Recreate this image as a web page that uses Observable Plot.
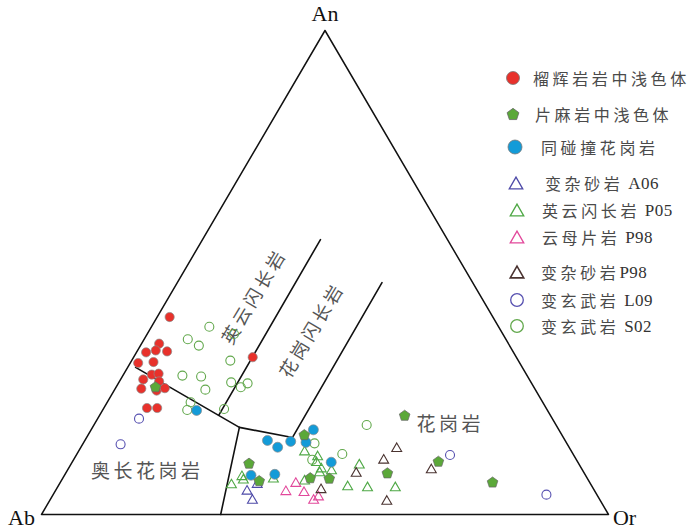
<!DOCTYPE html>
<html><head><meta charset="utf-8">
<script src="https://cdn.jsdelivr.net/npm/d3@7"></script>
<script src="https://cdn.jsdelivr.net/npm/@observablehq/plot@0.6"></script>
<style>
body{margin:0;background:#fff;}
#wrap{position:relative;width:700px;height:532px;overflow:hidden;}
#wrap svg{position:absolute;left:0;top:0;}
</style></head><body><div id="wrap"></div>
<script>
// ternary data as [An %, Or %]  (Ab = 100 - An - Or)
const garnetLeuco = [[40.8,2.2],[35.3,3.1],[33.5,1.7],[33.9,3.2],[33.7,5.3],[31.3,1.4],[31.5,4.0],[28.9,5.0],[29.1,6.1],[27.9,4.0],[27.5,7.0],[26.0,4.6],[25.6,7.5],[26.1,8.7],[22.0,7.6],[22.0,9.4],[32.5,21.0]];
const gneissLeuco = [[26.4,6.9],[16.5,38.1],[10.6,31.3],[7.0,34.9],[7.6,43.6],[7.5,47.0],[20.5,53.8],[8.6,56.7],[11.0,64.5],[6.7,76.2]];
const synCollGranite = [[21.5,16.6],[17.5,39.2],[15.3,32.2],[13.9,34.7],[15.1,36.4],[14.9,39.2],[10.8,45.7],[8.1,32.9],[8.3,37.0]];
const greywackeA06 = [[5.1,33.7],[3.2,35.6],[6.5,34.8]];
const tonaliteP05 = [[6.4,30.3],[8.1,31.3],[7.4,31.9],[7.6,37.1],[13.2,39.8],[12.2,42.6],[11.0,43.0],[9.7,44.5],[8.9,44.6],[9.3,46.5],[7.2,42.8],[10.5,50.8],[6.0,51.0],[5.8,54.6],[5.8,59.5]];
const micaSchistP98 = [[5.0,40.6],[6.7,41.5],[4.8,43.9],[3.2,46.4],[3.9,46.9]];
const greywackeP98 = [[5.4,46.6],[8.8,51.1],[11.5,54.6],[13.9,55.7],[3.0,59.4],[9.5,64.0]];
const basaltL09 = [[19.8,7.3],[14.5,6.7],[12.3,65.9],[4.1,87.0]];
const basaltS02 = [[38.8,10.2],[37.3,15.3],[36.2,7.7],[34.9,10.3],[31.8,17.4],[28.7,10.5],[28.5,13.9],[25.8,16.0],[27.3,19.8],[26.3,22.0],[27.1,22.8],[23.2,14.7],[21.6,14.9],[21.8,21.3],[14.7,40.8],[12.5,46.8],[11.3,42.1],[18.5,48.1]];

// field boundaries [An %, Or %]
const triangleFrame = [[0,0],[0,100],[100,0],[0,0]];
const boundaryMain = [[30.4,1.4],[18.0,25.9],[15.9,36.3],[47.9,36.1]];
const boundaryLower = [[18.0,25.9],[0,31.6]];
const boundaryTonalite = [[20.5,21.0],[56.8,20.8]];

const legendLabels = ["榴辉岩岩中浅色体","片麻岩中浅色体","同碰撞花岗岩","变杂砂岩 A06","英云闪长岩 P05","云母片岩 P98","变杂砂岩P98","变玄武岩 L09","变玄武岩 S02"];
const fieldLabels = ["英云闪长岩","花岗闪长岩","花岗岩","奥长花岗岩"];
const vertexLabels = ["An","Ab","Or"];

const tx = d => d[1] + d[0] / 2;
const ty = d => d[0];

const triSym = {draw(ctx, size){const r=Math.sqrt(size/Math.PI);const w=r*1.3,h=r*1.13;ctx.moveTo(0,-h);ctx.lineTo(w,h);ctx.lineTo(-w,h);ctx.closePath();}};
const pentSym = {draw(ctx, size){const r=Math.sqrt(size/Math.PI);for(let k=0;k<5;k++){const a=-Math.PI/2+k*2*Math.PI/5;const x=r*Math.cos(a),y=r*Math.sin(a)+0.09*r;if(k)ctx.lineTo(x,y);else ctx.moveTo(x,y);}ctx.closePath();}};

const C = {red:"#e8312b", pent:"#5ba839", blue:"#139bd8", a06:"#4e4aa8", p05:"#4ea845", pink:"#e2489b", brown:"#4a3330", l09:"#5650b0", s02:"#62a84c"};
const cjk = "Noto Sans CJK SC";
const serif = "Liberation Serif";

const plot = Plot.plot({
  width: 700, height: 532, margin: 0,
  x: {domain: [0, 100], range: [41, 608], axis: null},
  y: {domain: [0, 100], range: [514, 30], axis: null},
  marks: [
    Plot.line(triangleFrame, {x: tx, y: ty, stroke: "#111", strokeWidth: 1.5}),
    Plot.line(boundaryMain, {x: tx, y: ty, stroke: "#111", strokeWidth: 1.6}),
    Plot.line(boundaryLower, {x: tx, y: ty, stroke: "#111", strokeWidth: 1.6}),
    Plot.line(boundaryTonalite, {x: tx, y: ty, stroke: "#111", strokeWidth: 1.6}),
    Plot.text([[100,0]], {x: tx, y: ty, text: () => vertexLabels[0], dy: -17, fontFamily: serif, fontSize: 22, fill: "#111"}),
    Plot.text([[0,0]], {x: tx, y: ty, text: () => vertexLabels[1], dx: -20, dy: 3, fontFamily: serif, fontSize: 22, fill: "#111"}),
    Plot.text([[0,100]], {x: tx, y: ty, text: () => vertexLabels[2], dx: 16, dy: 3, fontFamily: serif, fontSize: 22, fill: "#111"}),
    Plot.text([[45.0,15.1]], {x: tx, y: ty, text: () => fieldLabels[0], rotate: -59, fontFamily: cjk, fontSize: 18, fill: "#555"}),
    Plot.text([[38.0,28.8]], {x: tx, y: ty, text: () => fieldLabels[1], rotate: -59, fontFamily: cjk, fontSize: 18, fill: "#555"}),
    Plot.text([[18.6,62.8]], {x: tx, y: ty, text: () => fieldLabels[2], fontFamily: cjk, fontSize: 19, fill: "#555"}),
    Plot.text([[8.9,14.2]], {x: tx, y: ty, text: () => fieldLabels[3], fontFamily: cjk, fontSize: 19, fill: "#555"}),
    Plot.dot(basaltS02, {x: tx, y: ty, r: 4.5, stroke: C.s02, strokeWidth: 1.1, fill: "none"}),
    Plot.dot(basaltL09, {x: tx, y: ty, r: 4.5, stroke: C.l09, strokeWidth: 1.1, fill: "none"}),
    Plot.dot(tonaliteP05, {x: tx, y: ty, r: 3.8, symbol: triSym, stroke: C.p05, strokeWidth: 1.1, fill: "none"}),
    Plot.dot(micaSchistP98, {x: tx, y: ty, r: 3.8, symbol: triSym, stroke: C.pink, strokeWidth: 1.1, fill: "none"}),
    Plot.dot(greywackeP98, {x: tx, y: ty, r: 3.8, symbol: triSym, stroke: C.brown, strokeWidth: 1.1, fill: "none"}),
    Plot.dot(greywackeA06, {x: tx, y: ty, r: 3.8, symbol: triSym, stroke: C.a06, strokeWidth: 1.1, fill: "none"}),
    Plot.dot(garnetLeuco, {x: tx, y: ty, r: 4.6, fill: C.red, stroke: "#8a8a8a", strokeWidth: 0.7}),
    Plot.dot(synCollGranite, {x: tx, y: ty, r: 5, fill: C.blue, stroke: "#8a8a8a", strokeWidth: 0.7}),
    Plot.dot(gneissLeuco, {x: tx, y: ty, r: 5.6, symbol: pentSym, fill: C.pent, stroke: "#666", strokeWidth: 0.7})
  ]
});
document.getElementById("wrap").appendChild(plot);
d3.select(plot).selectAll("text").filter(function(){return /[\u4e00-\u9fff]/.test(this.textContent);}).style("letter-spacing","3.5px");

// legend overlay
const legendStyle = [
  {sym: d3.symbolCircle, r: 6.5, fill: C.red, stroke: "#777", sw: 0.8},
  {sym: pentSym, r: 6.2, fill: C.pent, stroke: "#666", sw: 0.8},
  {sym: d3.symbolCircle, r: 7, fill: C.blue, stroke: "#777", sw: 0.8},
  {sym: triSym, r: 5.2, fill: "none", stroke: C.a06, sw: 1.3},
  {sym: triSym, r: 5.2, fill: "none", stroke: C.p05, sw: 1.3},
  {sym: triSym, r: 5.2, fill: "none", stroke: C.pink, sw: 1.3},
  {sym: triSym, r: 5.2, fill: "none", stroke: C.brown, sw: 1.6},
  {sym: d3.symbolCircle, r: 6.3, fill: "none", stroke: C.l09, sw: 1.3},
  {sym: d3.symbolCircle, r: 6.3, fill: "none", stroke: C.s02, sw: 1.3}
];
const legRowY = [78, 114, 147, 183, 210, 237, 272, 300, 326];
const legMarkX = [513, 513, 515, 516, 517, 517, 517, 517, 517];
const legTextX = [533, 535, 541, 545, 542, 542, 541, 541, 541];
const leg = d3.select("#wrap").append("svg").attr("width", 700).attr("height", 532);
legendLabels.forEach((lab, i) => {
  const s = legendStyle[i];
  leg.append("path")
    .attr("transform", `translate(${legMarkX[i]},${legRowY[i]})`)
    .attr("d", d3.symbol(s.sym, s.r * s.r * Math.PI)())
    .attr("fill", s.fill).attr("stroke", s.stroke).attr("stroke-width", s.sw);
  const m = lab.match(/^([^A-Za-z0-9 ]+)(\s*)([A-Za-z0-9]*)$/);
  const t = leg.append("text").attr("x", legTextX[i]).attr("y", legRowY[i])
    .attr("dominant-baseline", "central").attr("fill", "#4a4a4a");
  t.append("tspan").text(m[1]).attr("font-family", cjk).attr("font-size", 16).style("letter-spacing", "3.6px");
  if (m[3]) t.append("tspan").text((m[2] ? "\u00a0" : "") + m[3]).attr("font-family", serif).attr("font-size", 17).attr("fill", "#333").style("letter-spacing", "0.5px");
});
</script></body></html>
